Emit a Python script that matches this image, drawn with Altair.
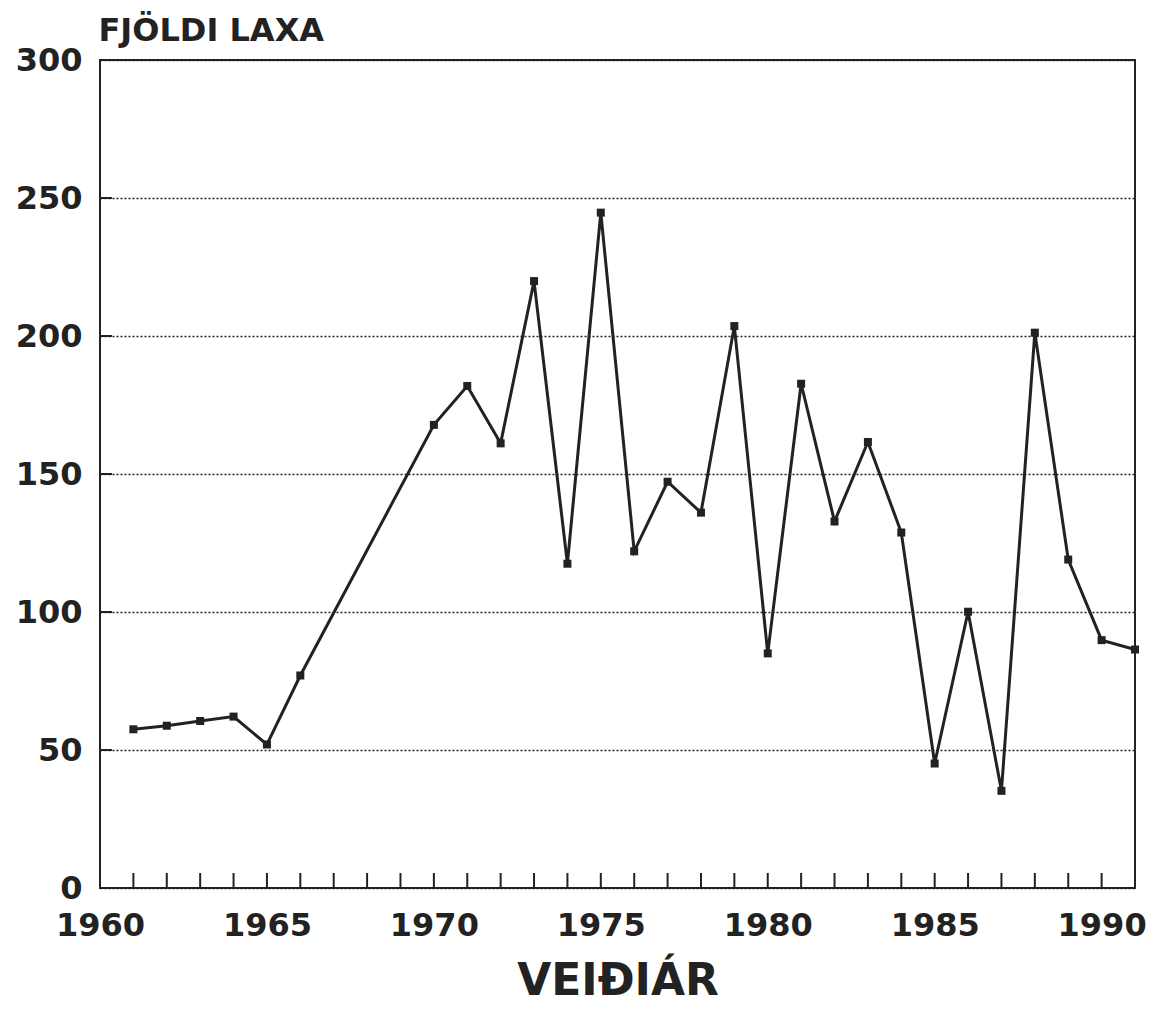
import altair as alt
import pandas as pd

# Data
years = [1961, 1962, 1963, 1964, 1965, 1966,
         1970, 1971, 1972, 1973, 1974, 1975, 1976, 1977, 1978, 1979,
         1980, 1981, 1982, 1983, 1984, 1985, 1986, 1987, 1988, 1989, 1990, 1991]
catch = [57.5, 58.8, 60.5, 62.1, 52.0, 77.0,
         167.8, 181.9, 161.1, 219.9, 117.5, 244.7, 122.0, 147.2, 136.0, 203.6,
         85.0, 182.7, 132.8, 161.6, 128.8, 45.1, 100.1, 35.2, 201.2, 119.0, 89.8, 86.4]

tick_years = [1961, 1962, 1963, 1964, 1965, 1966, 1967, 1968, 1969, 1970,
              1971, 1972, 1973, 1974, 1975, 1976, 1977, 1978, 1979, 1980,
              1981, 1982, 1983, 1984, 1985, 1986, 1987, 1988, 1989, 1990]
label_years = [1960, 1965, 1970, 1975, 1980, 1985, 1990]
y_labels = [0, 50, 100, 150, 200, 250, 300]
y_grid = [50, 100, 150, 200, 250]

x_title = "VEIÐIÁR"
y_title = "FJÖLDI LAXA"

df = pd.DataFrame({"year": years, "catch": catch})
xt_df = pd.DataFrame({"year": tick_years})
yt_df = pd.DataFrame({"catch": y_grid})

FONT = "DejaVu Sans"
INK = "#222222"
W, H = 1035, 828

x_scale = alt.Scale(domain=[1960, 1991], nice=False, zero=False)
y_scale = alt.Scale(domain=[0, 300], nice=False, zero=True)

x_axis = alt.Axis(
    values=label_years, format="d", title=x_title, grid=False, domain=False,
    ticks=False, labelFont=FONT, labelFontSize=32, labelFontWeight="bold",
    labelColor=INK, labelPadding=22, labelFlush=False, labelOverlap=False,
    titleFont=FONT, titleFontSize=44, titleFontWeight="bold", titleColor=INK,
    titleY=106, titleBaseline="alphabetic",
)
y_axis = alt.Axis(
    values=y_labels, title=y_title, grid=True, gridDash=[2, 2], gridColor=INK,
    gridWidth=1.5, domain=False, ticks=False, labelFont=FONT, labelFontSize=32,
    labelFontWeight="bold", labelColor=INK, labelPadding=18, labelFlush=False,
    labelOverlap=False, titleAngle=0, titleAlign="left", titleBaseline="alphabetic",
    titleX=-2, titleY=-20, titleFont=FONT, titleFontSize=32, titleFontWeight="bold",
    titleColor=INK,
)

x_enc = alt.X("year:Q", scale=x_scale, axis=x_axis)
y_enc = alt.Y("catch:Q", scale=y_scale, axis=y_axis)

line = alt.Chart(df).mark_line(color=INK, strokeWidth=3).encode(x=x_enc, y=y_enc)
points = alt.Chart(df).mark_square(size=64, color=INK, opacity=1).encode(x=x_enc, y=y_enc)

x_ticks = alt.Chart(xt_df).mark_rule(color=INK, strokeWidth=2).encode(
    x=x_enc, y=alt.value(H), y2=alt.value(H - 15)
)
y_ticks = alt.Chart(yt_df).mark_rule(color=INK, strokeWidth=2).encode(
    y=y_enc, x=alt.value(0), x2=alt.value(12)
)

chart = alt.layer(x_ticks, y_ticks, line, points).properties(
    width=W, height=H,
    padding={"left": 92, "top": 52, "right": 12, "bottom": 116},
    autosize=alt.AutoSizeParams(type="none"),
    background="white",
).configure_view(stroke=INK, strokeWidth=2)

chart.save("out.html", embed_options={"renderer": "svg", "actions": False})
